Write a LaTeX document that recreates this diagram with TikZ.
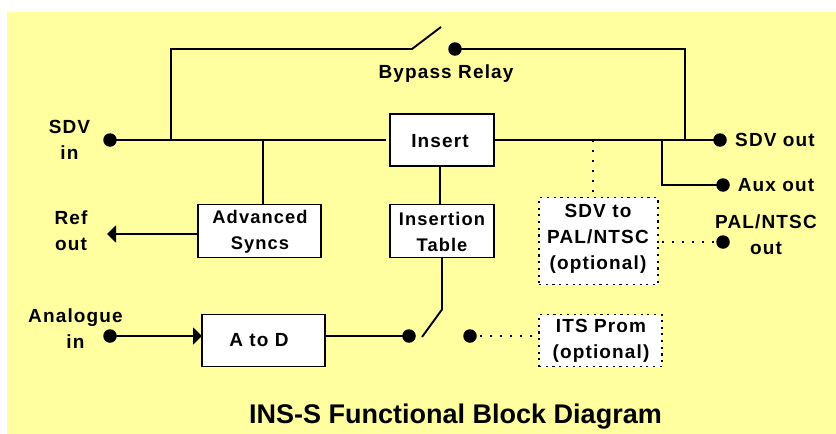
\documentclass[tikz,border=0pt]{standalone}
\usepackage{fontspec}
\setmainfont{Liberation Sans}
\newfontfamily\labfont[LetterSpace=6]{Liberation Sans}
\usetikzlibrary{arrows.meta}
\definecolor{bgy}{HTML}{FFFF9F}
\tikzset{
  wire/.style={line width=1.9pt,draw=black},
  dotwire/.style={line width=1.9pt,draw=black,dash pattern=on 2pt off 8pt},
  blk/.style={draw=black,line width=1.9pt,fill=white,minimum width=#1,inner sep=0pt,outer sep=0pt,anchor=north west},
  optblk/.style={draw=black,line width=1.9pt,dash pattern=on 2.2pt off 4.5pt,fill=white,inner sep=0pt,outer sep=0pt},
  term/.style={circle,fill=black,minimum size=13.5pt,inner sep=0pt},
  lab/.style={font=\labfont\bfseries\fontsize{19}{26}\selectfont,align=center,inner sep=0pt,text=black},
  boxlab/.style={font=\labfont\bfseries\fontsize{18.3}{25.5}\selectfont,align=center,inner sep=0pt,text=black},
  tip/.style={-{Triangle[length=9pt,width=17pt]}},
}
\begin{document}
\begin{tikzpicture}[x=1pt,y=-1pt]
\useasboundingbox (0,0) rectangle (836,434);
\fill[white] (0,0) rectangle (836,434);
\fill[bgy] (7,12) rectangle (836,434);
% blocks
\node[blk=104pt,minimum height=52pt] (insert) at (390,114) {};
\node[blk=123pt,minimum height=53pt] (sync) at (198,204.5) {};
\node[blk=104pt,minimum height=53pt] (table) at (390,204.5) {};
\node[blk=123pt,minimum height=52pt] (atod) at (202,314.5) {};
\node[optblk,minimum width=119pt,minimum height=87pt,anchor=north west] (sdvpal) at (539,197.5) {};
\node[optblk,minimum width=123pt,minimum height=52pt,anchor=north west] (its) at (539,314.5) {};
% terminals
\node[term] (sdvin) at (110,140) {};
\node[term] (bypb) at (455,49) {};
\node[term] (sdvout) at (720,140) {};
\node[term] (auxout) at (723,185) {};
\node[term] (palout) at (723,242) {};
\node[term] (anain) at (110,336) {};
\node[term] (swa) at (409,336) {};
\node[term] (swb) at (470,336) {};
% coordinates
\coordinate (insl) at (386,140);
\coordinate (bypj) at (171,140);
\coordinate (bypc) at (171,49);
\coordinate (bypa) at (412,49);
\coordinate (bypt) at (441,27);
\coordinate (bypd) at (685,49);
\coordinate (bypr) at (685,140);
\coordinate (syncj) at (263,140);
\coordinate (auxj) at (662,140);
\coordinate (auxc) at (662,185);
\coordinate (optj) at (593,140);
\coordinate (reft) at (107,234);
\coordinate (tabk) at (442,309.5);
\coordinate (tabt) at (422,337);
% wires
\draw[wire] (sdvin.center) -- (insl);
\draw[wire] (bypj) -- (bypc) -- (bypa) -- (bypt);
\draw[wire] (bypb.center) -- (bypd) -- (bypr);
\draw[wire] (insert.east) -- (sdvout.center);
\draw[wire] (auxj) -- (auxc) -- (auxout.center);
\draw[wire] (syncj) -- (sync.north -| syncj);
\draw[wire] (insert.south -| 440,0) -- (table.north -| 440,0);
\draw[wire] (table.south -| tabk) -- (tabk) -- (tabt);
\draw[wire,tip] (sync.west |- reft) -- (reft);
\draw[wire,tip] (anain.center) -- (atod.west |- anain);
\draw[wire] (atod.east |- swa) -- (swa.center);
\draw[dotwire] (optj) -- (sdvpal.north -| optj);
\draw[dotwire] (sdvpal.east |- palout) ++(4,0) -- (palout.center);
\draw[dotwire] (swb.center) -- (its.west |- swb);
% labels
\node[lab] (tinsert) at (440,141) {Insert};
\node[boxlab] (tsync) at (260,232) {Advanced\\Syncs};
\node[boxlab] (ttable) at (442,232) {Insertion\\Table};
\node[lab] (tatod) at (259,340) {A to D};
\node[lab] (tsdvpal) at (598,239) {SDV to\\PAL/NTSC\\(optional)};
\node[lab] (tits) at (601,341) {ITS Prom\\(optional)};
\node[lab] (tbyp) at (446,73.5) {Bypass Relay};
\node[lab] (tsdvin) at (69.5,140) {SDV\\in};
\node[lab] (tref) at (71,231) {Ref\\out};
\node[lab] (tana) at (75.5,329) {Analogue\\in};
\node[lab] (tsdvout) at (775,140) {SDV out};
\node[lab] (tauxout) at (776,185) {Aux out};
\node[lab] (tpalout) at (766,235) {PAL/NTSC\\out};
\node[font=\bfseries\fontsize{27}{30}\selectfont,inner sep=0pt] (title) at (455.5,417) {INS-S Functional Block Diagram};
\end{tikzpicture}
\end{document}
